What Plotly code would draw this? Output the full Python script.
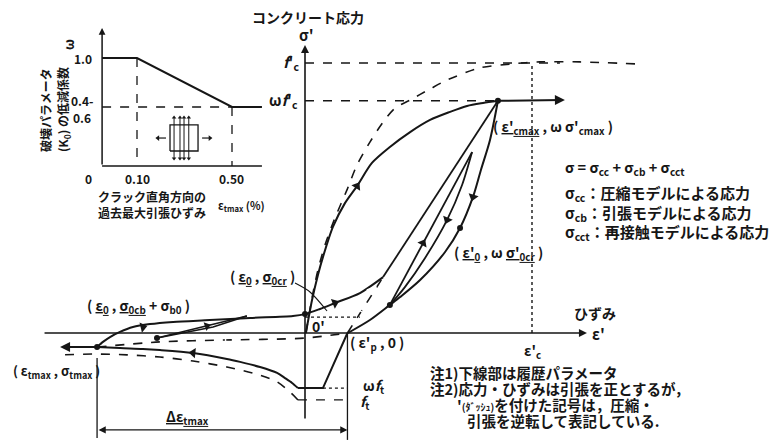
import math
import plotly.graph_objects as go

# the page body has an 8px margin: the figure is drawn 8px in from the top-left corner
OFF = 8
W, H = 782 - OFF, 441 - OFF
INK = "#161616"
JP = "Noto Sans CJK JP"

# ---------------- main diagram (strain in units of ε'c, stress in units of f'c) ----------------
EPS_C = 1.0
F_C = 1.0
OMEGA = 0.86
EPS_CMAX = 0.85
EPS_P = 0.187
EPS_TMAX = -0.916
SIG_TMAX = -0.052
OMEGA_FT = -0.204
FT = -0.248
SIG_0CR = 0.059

# solid envelope (reduced by ω)
env_eps = [0.004, 0.031, 0.057, 0.079, 0.123, 0.176, 0.229, 0.295, 0.374, 0.463, 0.551, 0.639, 0.714, 0.784, 0.85]
env_sig = [0.0, 0.122, 0.215, 0.281, 0.393, 0.481, 0.544, 0.630, 0.689, 0.744, 0.789, 0.819, 0.841, 0.852, 0.86]
post_peak_eps = [0.85, 1.145]
post_peak_sig = [0.86, 0.863]

# original compression curve (dashed)
orig_eps = [0.004, 0.031, 0.057, 0.088, 0.132, 0.185, 0.229, 0.286, 0.344, 0.397, 0.463, 0.551, 0.626, 0.771, 0.903, 1.035, 1.211, 1.476]
orig_sig = [0.0, 0.130, 0.233, 0.326, 0.426, 0.530, 0.622, 0.707, 0.781, 0.833, 0.863, 0.904, 0.937, 0.982, 0.996, 1.004, 1.004, 0.996]

# reloading from tension side
reload_eps = [-0.916, -0.890, -0.859, -0.815, -0.758, -0.683, -0.581, -0.419, -0.242, -0.053, 0.0, 0.066, 0.132, 0.242, 0.344]
reload_sig = [-0.052, -0.033, -0.015, 0.004, 0.022, 0.033, 0.041, 0.048, 0.056, 0.063, 0.070, 0.089, 0.111, 0.148, 0.207]
reload_line_eps = [0.344, 0.85]
reload_line_sig = [0.207, 0.86]

# unloading from peak to ε'p
unload_eps = [0.85, 0.815, 0.775, 0.740, 0.683, 0.617, 0.507, 0.419, 0.374, 0.286, 0.189]
unload_sig = [0.86, 0.715, 0.604, 0.504, 0.389, 0.300, 0.196, 0.133, 0.104, 0.048, 0.0]

# inner loop
inner_up_eps = [0.374, 0.736]
inner_up_sig = [0.104, 0.670]
inner_dn_eps = [0.736, 0.692, 0.626, 0.529, 0.440, 0.374]
inner_dn_sig = [0.670, 0.548, 0.419, 0.278, 0.170, 0.104]

# tension side
tens_lin_eps = [0.187, 0.079, -0.031]
tens_lin_sig = [0.0, -0.204, -0.204]
tens_eps = [-0.031, -0.057, -0.088, -0.123, -0.198, -0.286, -0.344, -0.493, -0.639, -0.714, -0.815, -0.916]
tens_sig = [-0.204, -0.185, -0.167, -0.148, -0.126, -0.107, -0.096, -0.074, -0.063, -0.059, -0.056, -0.052]
tens_env_eps = [-0.031, -0.062, -0.123, -0.198, -0.344, -0.493, -0.639, -0.784, -0.934, -1.066]
tens_env_sig = [-0.248, -0.222, -0.181, -0.156, -0.126, -0.104, -0.089, -0.081, -0.078, -0.081]
contact_eps = [-0.916, -0.639, -0.361, -0.004, 0.187]
contact_sig = [-0.052, -0.033, -0.026, -0.019, 0.0]
recontact_eps = [0.187, 0.344]
recontact_sig = [0.0, 0.207]
small_a_eps = [-0.652, -0.256]
small_a_sig = [-0.0185, 0.063]
small_b_eps = [-0.652, -0.405, -0.256]
small_b_sig = [-0.0185, 0.022, 0.063]
leader_eps = [-0.044, 0.022, 0.097]
leader_sig = [0.185, 0.152, 0.0815]

# ---------------- inset: ω vs. maximum tensile strain (%) ----------------
INSET_S0 = -0.047       # where the ω axis stands
INSET_W0 = -0.322       # where the strain axis lies
INSET_S_END = 0.626
INSET_W_TOP = 1.367
omega_strain = [INSET_S0, 0.10, 0.50, INSET_S_END]
omega_value = [1.0, 1.0, 0.4, 0.4]
icon_s = [0.239, 0.357]
icon_w = [-0.139, 0.180]
icon_lines_s = [0.256, 0.281, 0.298, 0.318]

# axis ranges: main 227 px per ε'c, 270 px per f'c; inset 237.5 px per %, 81.667 px per ω
X0_MAIN = -(305 - OFF) / 227
Y1_MAIN = (333 - OFF) / 270
XR_MAIN = [X0_MAIN, X0_MAIN + W / 227]
YR_MAIN = [Y1_MAIN - H / 270, Y1_MAIN]
X0_IN = 0.1 - (137 - OFF) / 237.5
Y1_IN = 1 + (58 - OFF) / 81.667
XR_IN = [X0_IN, X0_IN + W / 237.5]
YR_IN = [Y1_IN - H / 81.667, Y1_IN]

fig = go.Figure()


def line(xs, ys, width=2.0, dash=None, spline=False, inset=False):
    fig.add_trace(go.Scatter(
        x=xs, y=ys, mode="lines",
        line=dict(color=INK, width=width, dash=dash, shape="spline" if spline else "linear", smoothing=0.8),
        xaxis="x2" if inset else "x", yaxis="y2" if inset else "y",
        hoverinfo="skip", showlegend=False))


def head(u, v, du, dv, symbol="triangle-up", size=9, inset=False, open_=False):
    sx, sy = (237.5, 81.667) if inset else (227.0, 270.0)
    ang = math.degrees(math.atan2(du * sx, dv * sy))
    fig.add_trace(go.Scatter(
        x=[u], y=[v], mode="markers",
        marker=dict(symbol=symbol + ("-open" if open_ else ""), size=size, angle=ang,
                    color=INK if not open_ else "white",
                    line=dict(color=INK, width=1.4 if open_ else 0)),
        xaxis="x2" if inset else "x", yaxis="y2" if inset else "y",
        hoverinfo="skip", showlegend=False))


def dots(us, vs, size=6):
    fig.add_trace(go.Scatter(x=us, y=vs, mode="markers",
                             marker=dict(size=size, color=INK),
                             hoverinfo="skip", showlegend=False))


def arrow(x0, y0, x1, y1, inset=False, width=1.6, side="end", size=1.0, head_=2):
    xr, yr = ("x2", "y2") if inset else ("x", "y")
    fig.add_annotation(x=x1, y=y1, ax=x0, ay=y0, xref=xr, yref=yr, axref=xr, ayref=yr,
                       showarrow=True, arrowhead=head_, arrowsize=size, arrowwidth=width,
                       arrowcolor=INK, arrowside=side, text="")


def P(x, y):
    return (x - OFF) / W, 1 - (y - OFF) / H


def text(x, y, s, size=14, xanchor="center", angle=0, family=JP):
    px, py = P(x, y)
    fig.add_annotation(x=px, y=py, xref="paper", yref="paper", text=s, showarrow=False,
                       font=dict(size=size, color=INK, family=family),
                       xanchor=xanchor, yanchor="middle", textangle=angle)


# ---- axes of main diagram ----
arrow(0, -0.322, 0, 1.067, width=1.6)
arrow(-1.154, 0, 1.242, 0, width=1.6)

# guide lines
line([0, 1.123], [F_C, F_C], width=1.4, dash="dash")
line([0, EPS_CMAX], [OMEGA, OMEGA], width=1.4, dash="dash")
line([EPS_C, EPS_C], [0, F_C], width=1.4, dash="dot")
line([0, 0.242], [SIG_0CR, SIG_0CR], width=1.2, dash="dot")
line([0.079, EPS_P], [OMEGA_FT, OMEGA_FT], width=1.2, dash="dot")
line([-0.031, EPS_P], [FT, FT], width=1.2, dash="dash")
line([EPS_P, EPS_P], [0, -0.396], width=1.3)
line([EPS_TMAX, EPS_TMAX], [-0.093, -0.389], width=1.3)
arrow(EPS_TMAX, -0.359, EPS_P, -0.359, width=1.2, side="end+start", size=1.2)

# curves
line(orig_eps, orig_sig, width=1.6, dash="dash", spline=True)
line(env_eps, env_sig, width=2.0, spline=True)
arrow(post_peak_eps[0], post_peak_sig[0], post_peak_eps[1], post_peak_sig[1], width=2.0)
line(reload_eps, reload_sig, width=2.0, spline=True)
line(reload_line_eps, reload_line_sig, width=1.8)
line(unload_eps, unload_sig, width=2.0, spline=True)
line(inner_up_eps, inner_up_sig, width=1.8)
line(inner_dn_eps, inner_dn_sig, width=1.8, spline=True)
line(tens_lin_eps, tens_lin_sig, width=2.0)
line(tens_eps, tens_sig, width=2.0, spline=True)
arrow(EPS_TMAX, SIG_TMAX, -1.079, SIG_TMAX, width=2.0)
line(tens_env_eps, tens_env_sig, width=1.6, dash="dash", spline=True)
line(contact_eps, contact_sig, width=1.6, dash="dash", spline=True)
line(recontact_eps, recontact_sig, width=1.6, dash="dash")
line(small_a_eps, small_a_sig, width=1.6)
line(small_b_eps, small_b_sig, width=1.6)
line(leader_eps, leader_sig, width=1.1, spline=True)

# arrowheads on curves
head(0.229, 0.544, 0.066, 0.086)
head(-0.714, 0.022, 0.10, 0.02)
head(0.132, 0.111, 0.11, 0.037)
head(-0.493, -0.074, -0.15, 0.012)
head(0.520, 0.333, 0.362, 0.566)
head(0.626, 0.419, -0.066, -0.129)
head(0.740, 0.504, -0.035, -0.10)
head(-0.432, 0.026, 0.15, 0.04, size=8)
head(-0.361, -0.026, -0.2, 0.0, open_=True, size=10)
head(-0.229, -0.022, 0.2, 0.0, open_=True, size=10)
head(0.251, 0.089, 0.157, 0.207, open_=True, size=10)
head(0.300, 0.156, 0.157, 0.207, open_=True, size=10)
dots([EPS_CMAX, EPS_TMAX, 0.374, 0.683, -0.652, 0.0],
     [OMEGA, SIG_TMAX, 0.104, 0.389, -0.0185, 0.070], size=6)

# ---- inset ----
arrow(INSET_S0, INSET_W0, INSET_S0, INSET_W_TOP, inset=True, width=1.5, size=0.9)
line([INSET_S0, INSET_S_END], [INSET_W0, INSET_W0], width=1.5, inset=True)
line(omega_strain, omega_value, width=2.0, inset=True)
line([0.10, 0.10], [1.0, INSET_W0], width=1.3, dash="dash", inset=True)
line([0.50, 0.50], [0.4, INSET_W0], width=1.3, dash="dash", inset=True)
line([INSET_S0, 0.50], [0.4, 0.4], width=1.3, dash="dash", inset=True)
line([icon_s[0], icon_s[1], icon_s[1], icon_s[0], icon_s[0]],
     [icon_w[0], icon_w[0], icon_w[1], icon_w[1], icon_w[0]], width=1.3, inset=True)
for s in icon_lines_s:
    line([s, s], [-0.23, 0.27], width=1.0, inset=True)
    head(s, 0.27, 0, 1, size=4, inset=True)
    head(s, -0.23, 0, -1, size=4, inset=True)
line([0.188, 0.222], [0.02, 0.02], width=1.2, inset=True)
head(0.188, 0.02, -1, 0, size=5, inset=True)
line([0.374, 0.407], [0.02, 0.02], width=1.2, inset=True)
head(0.407, 0.02, 1, 0, size=5, inset=True)

# ---- text ----
B = lambda s: "<b>" + s + "</b>"
text(308, 17, B("コンクリート応力"), 14)
text(306, 34, B("σ'"), 15)
text(291, 63, B("<i>f</i>'<sub>c</sub>"), 15)
text(283, 100, B("ω<i>f</i>'<sub>c</sub>"), 15)
text(553, 127, B("( <u>ε'<sub>cmax</sub></u> , ω σ'<sub>cmax</sub> )"), 14)
text(563, 167, B("σ = σ<sub>cc</sub> + σ<sub>cb</sub> + σ<sub>cct</sub>"), 14.5, xanchor="left")
text(563, 193, B("σ<sub>cc</sub>：圧縮モデルによる応力"), 15, xanchor="left")
text(563, 213, B("σ<sub>cb</sub>：引張モデルによる応力"), 15, xanchor="left")
text(563, 232, B("σ<sub>cct</sub>：再接触モデルによる応力"), 15, xanchor="left")
text(498, 253, B("( <u>ε'<sub>0</sub></u> , ω <u>σ'<sub>0cr</sub></u> )"), 14)
text(263, 277, B("( <u>ε<sub>0</sub></u> , <u>σ<sub>0cr</sub></u> )"), 14)
text(138, 306, B("( <u>ε<sub>0</sub></u> , <u>σ<sub>0cb</sub></u> + σ<sub>b0</sub> )"), 14)
text(595, 313, B("ひずみ"), 14)
text(590, 333, B("ε'"), 15, xanchor="left")
text(532, 351, B("ε'<sub>c</sub>"), 14)
text(377, 343, B("( ε'<sub>p</sub> , 0 )"), 14)
text(318, 326, B("0'"), 14)
text(56, 371, B("( ε<sub>tmax</sub> , σ<sub>tmax</sub> )"), 13)
text(373, 386, B("ω<i>f</i><sub>t</sub>"), 14)
text(364, 402, B("<i>f</i><sub>t</sub>"), 14)
text(187, 417, B("<u>Δε<sub>tmax</sub></u>"), 14)
text(428, 372, B("注1)下線部は履歴パラメータ"), 14.5, xanchor="left")
text(428, 388, B("注2)応力・ひずみは引張を正とするが，"), 14.5, xanchor="left")
text(455, 404, B("'<span style='font-size:10px'>(ﾀﾞｯｼｭ)</span>を付けた記号は，圧縮・"), 14.5, xanchor="left")
text(465, 420, B("引張を逆転して表記している."), 14.5, xanchor="left")

# inset text
text(45, 110, B("破壊パラメータ"), 12, angle=-90)
text(63, 110, B("(K<sub>0</sub>) の低減係数"), 12, angle=-90)
text(68, 45, B("ω"), 13, angle=-90)
text(83, 58, B("1.0"), 12)
text(82, 100, B("0.4-"), 12)
text(82, 118, B("0.6"), 12)
text(88, 178, B("0"), 12)
text(137, 178, B("0.10"), 12)
text(232, 178, B("0.50"), 12)
text(152, 196, B("クラック直角方向の"), 12)
text(152, 212, B("過去最大引張ひずみ"), 12)
text(241, 205, B("ε<sub>tmax</sub> (%)"), 11)

fig.update_layout(
    width=W, height=H, margin=dict(l=0, r=0, t=0, b=0),
    paper_bgcolor="white", plot_bgcolor="white", showlegend=False,
    xaxis=dict(range=XR_MAIN, visible=False, fixedrange=True),
    yaxis=dict(range=YR_MAIN, visible=False, fixedrange=True),
    xaxis2=dict(range=XR_IN, visible=False, overlaying="x", anchor="y2"),
    yaxis2=dict(range=YR_IN, visible=False, overlaying="y", anchor="x2"),
)

fig.write_html("out.html")
